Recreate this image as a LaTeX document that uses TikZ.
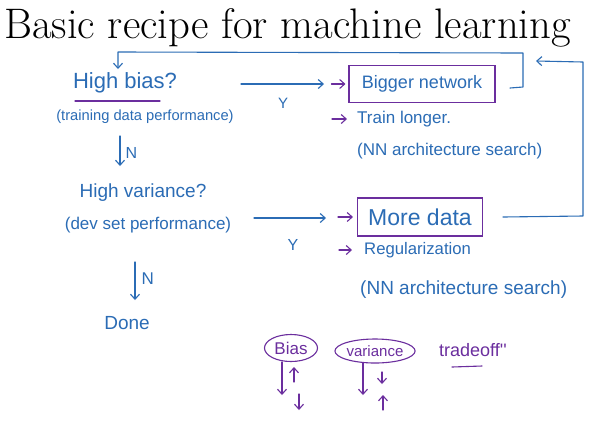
\documentclass[tikz,border=0pt]{standalone}
\usepackage{fontspec}
\newfontfamily\hand{Liberation Sans}
\usetikzlibrary{arrows.meta,shapes.geometric}
\definecolor{ink}{HTML}{2B6CB5}
\definecolor{pen}{HTML}{6B2E9E}
\newcommand\hsz[1]{\fontsize{#1}{#1}\selectfont}
\tikzset{
  hw/.style={text=ink, inner sep=1pt},
  hwp/.style={text=pen, inner sep=1pt},
  bl/.style={draw=ink, line width=1.1pt, line cap=round, line join=round},
  pl/.style={draw=pen, line width=1.1pt, line cap=round, line join=round},
  arr/.style={-{Straight Barb[length=5pt,width=9pt]}},
  boxp/.style={draw=pen, line width=1.1pt, text=ink, inner sep=2pt},
  ell/.style={ellipse, draw=pen, line width=1.1pt, text=pen, inner sep=0pt},
}
\begin{document}
\begin{tikzpicture}[x=1pt,y=-1pt]
\useasboundingbox[fill=white] (0,0) rectangle (604,424);
% title
\node[anchor=base west, font=\hsz{42.7}, inner sep=0pt] (title) at (4,38) {Basic recipe for machine learning};

% left column
\node[hw, font=\hand\hsz{22}] (hb) at (125,83) {High bias?};
\node[hw, font=\hand\hsz{14.7}] (tdp) at (145,117) {(training data performance)};
\node[hw, font=\hand\hsz{19}] (hv) at (143,193) {High variance?};
\node[hw, font=\hand\hsz{17}] (dsp) at (148,225) {(dev set performance)};
\node[hw, font=\hand\hsz{19}] (done) at (127,323) {Done};

% right column
\node[boxp, font=\hand\hsz{18}, minimum width=146pt, minimum height=37pt] (bn) at (422,84) {Bigger network};
\node[hw, font=\hand\hsz{17}, anchor=west] (tl) at (356,119) {Train longer.};
\node[hw, font=\hand\hsz{17}, anchor=west] (nas1) at (356,151) {(NN architecture search)};
\node[boxp, font=\hand\hsz{23}, minimum width=125pt, minimum height=38pt] (md) at (420,217) {More data};
\node[hw, font=\hand\hsz{16.7}, anchor=west] (reg) at (363,250) {Regularization};
\node[hw, font=\hand\hsz{19}, anchor=west] (nas2) at (359,290) {(NN architecture search)};

% bottom
\node[ell, font=\hand\hsz{17}, minimum width=53pt, minimum height=27pt] (bias) at (291,348) {Bias};
\node[ell, font=\hand\hsz{15}, minimum width=76pt, minimum height=24pt] (var) at (375,351) {variance};
\node[hwp, font=\hand\hsz{18}] (to) at (473,350) {tradeoff''};
\draw[pl] (452,367) -- (482,366);

% underline of High bias
\draw[pl] (75,101) -- (160,101);

% N arrows
\coordinate (n1a) at (120,136);
\coordinate (n1b) at (120,166);
\draw[bl,arr] (n1a) -- (n1b) node[hw, font=\hand\hsz{16}, pos=0.55, right=4pt] (n1) {N};
\coordinate (n2a) at (135,262);
\coordinate (n2b) at (135,300);
\draw[bl,arr] (n2a) -- (n2b) node[hw, font=\hand\hsz{17}, pos=0.45, right=5pt] (n2) {N};

% Y arrows
\coordinate (y1a) at (241,84);
\coordinate (y1b) at (324,84);
\draw[bl,arr] (y1a) -- (y1b);
\node[hw, font=\hand\hsz{15}] (y1) at (283,103) {Y};
\coordinate (y2a) at (254,218);
\coordinate (y2b) at (326,218);
\draw[bl,arr] (y2a) -- (y2b);
\node[hw, font=\hand\hsz{16}] (y2) at (293,245) {Y};

% small purple arrows
\draw[pl,arr] ([xshift=-17pt]bn.west) -- ([xshift=-3pt]bn.west);
\draw[pl,arr] ([xshift=-24pt]tl.west) -- ([xshift=-9pt]tl.west);
\draw[pl,arr] ([xshift=-19pt]md.west) -- ([xshift=-4pt]md.west);
\draw[pl,arr] ([xshift=-24pt]reg.west) -- ([xshift=-11pt]reg.west);

% top feedback loop
\coordinate (l1a) at (510,88);
\coordinate (l1b) at (523,87);
\coordinate (l1c) at (523,53);
\coordinate (l1d) at (118,52);
\coordinate (l1e) at (118,69);
\draw[bl,arr] (l1a) -- (l1b) -- (l1c) -- (l1d) -- (l1e);

% right feedback loop
\coordinate (l2a) at (503,217);
\coordinate (l2b) at (583,216);
\coordinate (l2c) at (583,62);
\coordinate (l2d) at (536,61);
\draw[bl,arr] (l2a) -- (l2b) -- (l2c) -- (l2d);

% bias / variance arrows
\draw[pl,arr] (282,362) -- (282,395);
\draw[pl,arr] (294,382) -- (294,367);
\draw[pl,arr] (299,394) -- (299,410);
\draw[pl,arr] (363,363) -- (363,395);
\draw[pl,arr] (382,372) -- (382,384);
\draw[pl,arr] (383,410) -- (383,395);
\end{tikzpicture}
\end{document}
